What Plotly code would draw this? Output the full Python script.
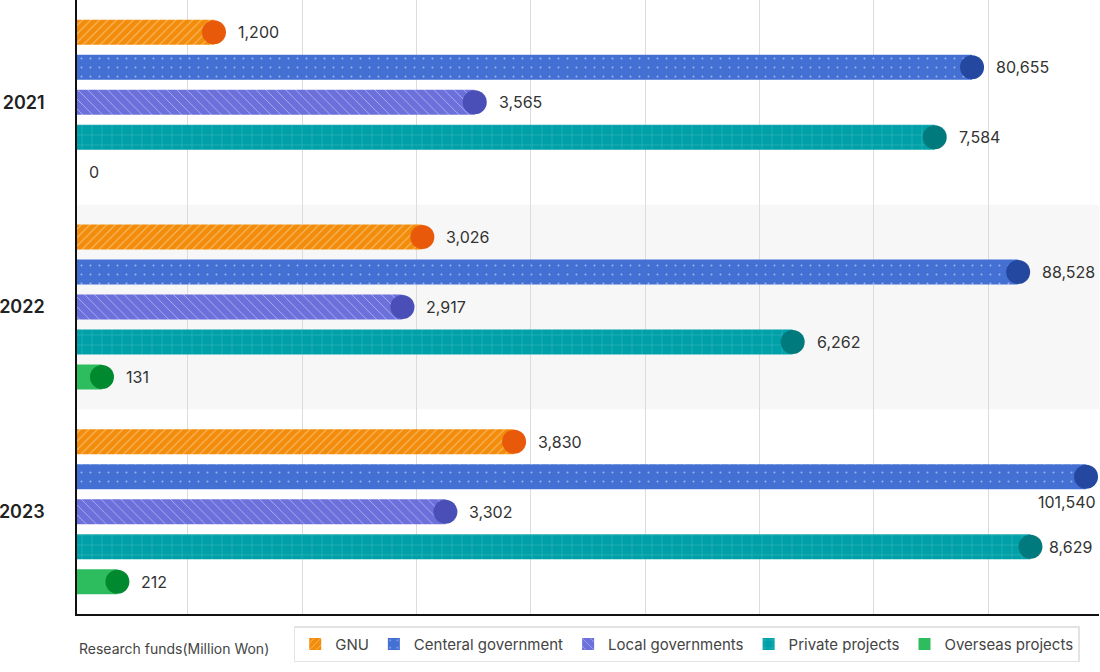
import math
import plotly.graph_objects as go

# ---------------- data ----------------
years = ["2021", "2022", "2023"]
series_names = ["GNU", "Centeral government", "Local governments", "Private projects", "Overseas projects"]
gnu = [1200, 3026, 3830]
central = [80655, 88528, 101540]
local = [3565, 2917, 3302]
private = [7584, 6262, 8629]
overseas = [0, 131, 212]
legend_title = "Research funds(Million Won)"

# ---------------- styles ----------------
FONT = "Inter"
bar_colors = ["#F28C0A", "#4370D2", "#6B70DA", "#00A0A8", "#2DBD5E"]
dot_colors = ["#E85A0A", "#2448A0", "#4A4FB8", "#007A7C", "#00892F"]
pattern_fg = ["#F9BE6E", "#9DB4EA", "#A9ACF0", "#4DC0C4", "#2DBD5E"]
pattern_shape = ["/", ".", "\\", "+", ""]
pattern_size = [6, 9, 7, 10, 8]
pattern_solidity = [0.18, 0.04, 0.14, 0.08, 0.1]

# one (hidden) value axis per series; central government and private projects on log scales
axis_ids = ["x2", "x3", "x4", "x5", "x6"]
axis_types = ["linear", "log", "linear", "log", "linear"]
axis_ranges = [[0, 8955], [4.1216, 5.018], [0, 9160], [3.3776, 3.9761], [0, 5362]]

values = [gnu, central, local, private, overseas]

ROW_STEP = 0.171   # vertical distance between bars inside one year group
BAR_W = 0.122

fig = go.Figure()
# base subplot (holds grid and axis lines)
fig.add_trace(go.Scatter(x=[None], y=[None], showlegend=False, hoverinfo="skip"))

annotations = []
for s, name in enumerate(series_names):
    vals = values[s]
    ys = [g + 0.5 + (s - 2) * ROW_STEP for g in range(len(years))]
    fig.add_trace(go.Bar(
        x=vals, y=ys, orientation="h", width=BAR_W, name=name,
        xaxis=axis_ids[s], yaxis="y",
        marker=dict(
            color=bar_colors[s], line=dict(width=0),
            pattern=dict(shape=pattern_shape[s], bgcolor=bar_colors[s],
                         fgcolor=pattern_fg[s], size=pattern_size[s],
                         solidity=pattern_solidity[s], fillmode="replace"),
        ),
        hoverinfo="x+name",
    ))
    mx = [v for v in vals if v > 0]
    my = [y for v, y in zip(vals, ys) if v > 0]
    fig.add_trace(go.Scatter(
        x=mx, y=my, mode="markers", xaxis=axis_ids[s], yaxis="y",
        marker=dict(size=24, color=dot_colors[s], line=dict(width=0)),
        showlegend=False, hoverinfo="skip",
    ))
    r0, r1 = axis_ranges[s]
    for v, y in zip(vals, ys):
        ax_x = math.log10(v) if axis_types[s] == "log" else v
        frac = (ax_x - r0) / (r1 - r0)
        label = f"{v:,}"
        font = dict(family=FONT, size=16, color="#333333")
        if frac > 0.97:
            annotations.append(dict(
                x=ax_x, y=y, xref=axis_ids[s], yref="y", text=label, showarrow=False,
                xanchor="right", yanchor="middle", xshift=12, yshift=-25, font=font,
            ))
        else:
            shift = 22 if frac < 0.925 else 17
            if v == 0:
                shift = 10
            annotations.append(dict(
                x=ax_x, y=y, xref=axis_ids[s], yref="y", text=label, showarrow=False,
                xanchor="left", yanchor="middle", xshift=shift, font=font,
            ))

annotations.append(dict(
    x=0, y=-0.057, xref="paper", yref="paper", text=legend_title, showarrow=False,
    xanchor="left", yanchor="middle",
    font=dict(family=FONT, size=14, color="#444444"),
))

layout_axes = {}
for s, aid in enumerate(axis_ids):
    key = "xaxis" + aid[1:]
    layout_axes[key] = dict(
        type=axis_types[s], range=axis_ranges[s], overlaying="x", anchor="y",
        visible=False, fixedrange=True,
    )

fig.update_layout(
    width=1100, height=672,
    margin=dict(l=77, r=1, t=0, b=58, autoexpand=False),
    paper_bgcolor="white", plot_bgcolor="white",
    font=dict(family=FONT, size=16, color="#333333"),
    barmode="overlay",
    xaxis=dict(
        range=[30, 8970], dtick=1000, tick0=0, showgrid=True, gridcolor="#DCDCDC",
        gridwidth=1, zeroline=False, showticklabels=False, ticks="",
        showline=True, linecolor="#111111", linewidth=1.5, fixedrange=True,
    ),
    yaxis=dict(
        range=[3, 0], tickvals=[0.5, 1.5, 2.5], ticktext=years,
        tickfont=dict(family=FONT, size=18, color="#222222", weight=600),
        ticks="outside", ticklen=27, tickcolor="rgba(0,0,0,0)",
        showgrid=False, zeroline=False, showline=True, linecolor="#111111",
        linewidth=1.5, fixedrange=True,
    ),
    showlegend=True,
    legend=dict(
        orientation="h", xref="container", yref="container",
        x=0.267, xanchor="left", y=0.068, yanchor="top",
        bordercolor="#E3E3E3", borderwidth=1.5, bgcolor="white",
        font=dict(family=FONT, size=15, color="#444444"),
        traceorder="normal", itemclick=False, itemdoubleclick=False,
    ),
    shapes=[dict(
        type="rect", xref="paper", x0=0, x1=1, yref="y", y0=1, y1=2,
        fillcolor="#F7F7F7", line=dict(width=0), layer="below",
    )],
    annotations=annotations,
    **layout_axes,
)

fig.write_html(
    "out.html",
    config={"displayModeBar": False},
    post_script="document.body.style.margin='0';document.body.style.overflow='hidden';",
)
